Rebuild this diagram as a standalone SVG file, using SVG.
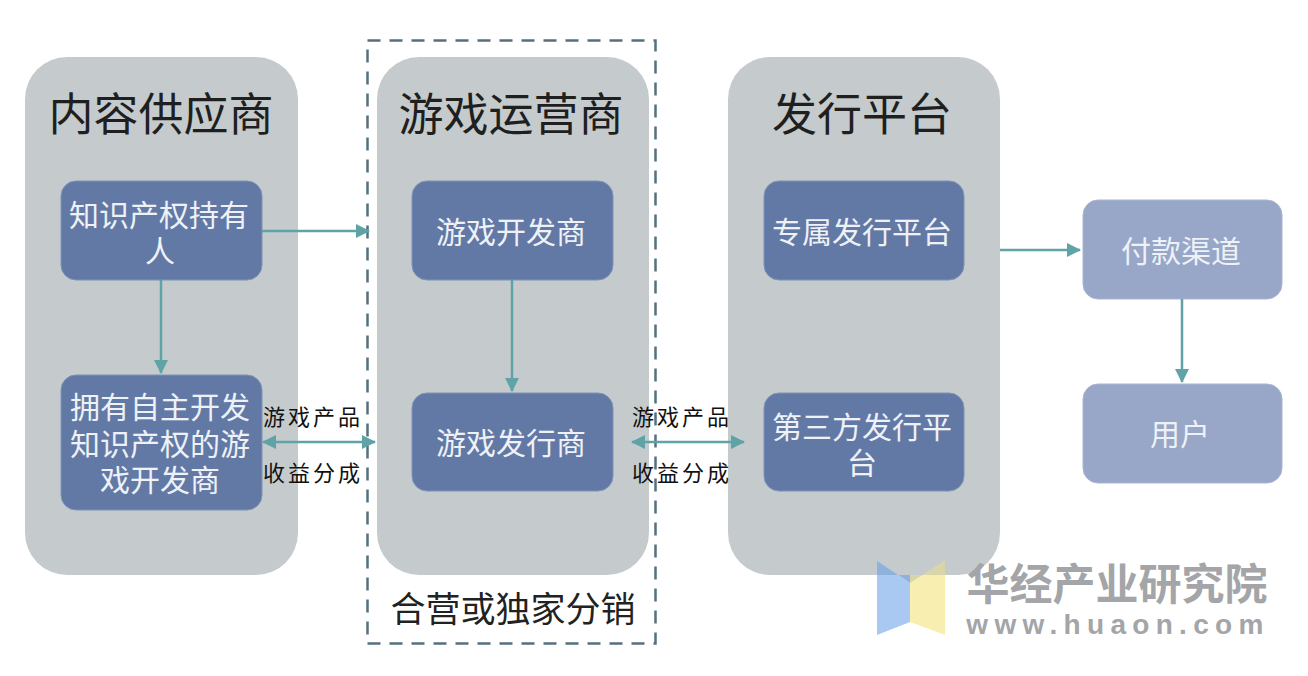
<svg xmlns="http://www.w3.org/2000/svg" width="1308" height="676" viewBox="0 0 1308 676">
<style>
text{font-family:"Liberation Sans","Noto Sans CJK SC",sans-serif;text-anchor:middle}
.panel{fill:#c5cbcc}
.box{fill:#6279a6;stroke:#7f92b8;stroke-width:1}
.lbox{fill:#98a6c8;stroke:#a9b5d1;stroke-width:1}
.h{font-size:45px;fill:#1f1f1f}
.t{font-size:30px;fill:#eef1f6}
.s{font-size:22px;fill:#111;letter-spacing:3px}
.c{stroke:#5fa3a6;stroke-width:2.500;fill:none;marker-end:url(#a)}
.d{stroke:#5fa3a6;stroke-width:2.500;fill:none;marker-end:url(#a);marker-start:url(#b)}
</style>
<defs>
<marker id="a" markerUnits="userSpaceOnUse" markerWidth="14" markerHeight="14" refX="13" refY="7" orient="auto"><path d="M0 0L14 7L0 14Z" fill="#5fa3a6"/></marker>
<marker id="b" markerUnits="userSpaceOnUse" markerWidth="14" markerHeight="14" refX="1" refY="7" orient="auto"><path d="M14 0L0 7L14 14Z" fill="#5fa3a6"/></marker>
</defs>
<rect width="1308" height="676" fill="#fff"/>
<g id="supplier"><rect class="panel" x="25" y="57" width="273" height="518" rx="42"/><text class="h" x="161" y="131">内容供应商</text></g>
<g id="operator"><rect class="panel" x="377" y="57" width="272" height="518" rx="42"/><text class="h" x="511" y="131">游戏运营商</text></g>
<g id="platform"><rect class="panel" x="728" y="57" width="272" height="518" rx="42"/><text class="h" x="862" y="131">发行平台</text></g>
<g id="watermark">
<path d="M877 561L910 583L910 622L877 635Z" fill="#a9c9f2"/>
<path d="M945 561L910 583L910 622L945 635Z" fill="#f8eeb0"/>
<path d="M877 561L910 583L910 575L877 575Z" fill="#8fb2dc"/>
<path d="M945 561L910 583L910 575L945 575Z" fill="#d9d5a8"/>
<text x="1117" y="600" font-size="43" font-weight="700" fill="#a3a5a8">华经产业研究院</text>
<text x="1118" y="634" font-size="28" font-weight="700" fill="#a3a5a8" style="letter-spacing:6.300px">www.huaon.com</text>
</g>
<g id="frame"><rect x="367.500" y="40.500" width="288" height="603" fill="none" stroke="#56707f" stroke-width="2.500" stroke-dasharray="13 9"/></g>
<g id="ip"><rect class="box" x="61" y="181" width="201" height="99" rx="15"/><text class="t" x="159" y="226">知识产权持有</text><text class="t" x="160" y="262">人</text></g>
<g id="selfdev"><rect class="box" x="61" y="375" width="201" height="135" rx="15"/><text class="t" x="160" y="418">拥有自主开发</text><text class="t" x="160" y="455">知识产权的游</text><text class="t" x="160" y="491">戏开发商</text></g>
<g id="dev"><rect class="box" x="412" y="181" width="201" height="99" rx="15"/><text class="t" x="511" y="243">游戏开发商</text></g>
<g id="pub"><rect class="box" x="412" y="393" width="201" height="98" rx="15"/><text class="t" x="511" y="454">游戏发行商</text></g>
<g id="own"><rect class="box" x="764" y="181" width="200" height="99" rx="15"/><text class="t" x="862" y="243">专属发行平台</text></g>
<g id="third"><rect class="box" x="764" y="393" width="200" height="98" rx="15"/><text class="t" x="862" y="438">第三方发行平</text><text class="t" x="862" y="474">台</text></g>
<g id="pay"><rect class="lbox" x="1083" y="200" width="199" height="99" rx="15"/><text class="t" x="1181" y="262">付款渠道</text></g>
<g id="user"><rect class="lbox" x="1083" y="384" width="199" height="99" rx="15"/><text class="t" x="1180" y="445">用户</text></g>
<g id="connectors">
<path class="c" d="M262 231H369"/>
<path class="c" d="M161 280V373"/>
<path class="c" d="M512 280V391"/>
<path class="c" d="M1000 250H1080"/>
<path class="c" d="M1182 299V382"/>
<path class="d" d="M263 442H375"/>
<path class="d" d="M632 442H744"/>
</g>
<g id="labels">
<text class="s" x="313" y="425">游戏产品</text><text class="s" x="313" y="481">收益分成</text>
<text class="s" x="682" y="425">游戏产品</text><text class="s" x="682" y="481">收益分成</text>
<text x="513" y="622" font-size="35" fill="#222">合营或独家分销</text>
</g>
</svg>
